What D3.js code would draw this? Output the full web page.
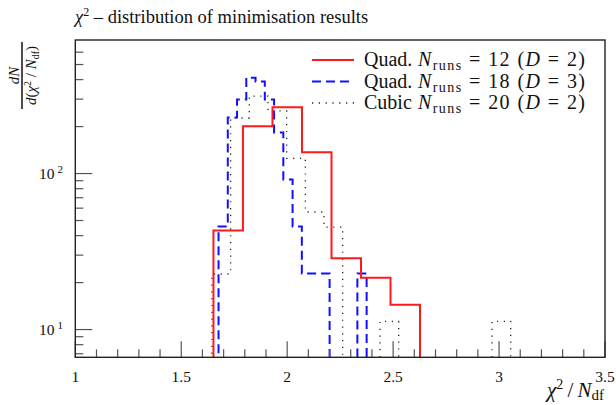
<!DOCTYPE html>
<html>
<head>
<meta charset="utf-8">
<script src="https://cdn.jsdelivr.net/npm/d3@7/dist/d3.min.js"></script>
<style>
  html, body { margin: 0; padding: 0; background: #fff; }
  svg { display: block; }
  text { font-family: "Liberation Serif", "DejaVu Serif", serif; fill: #111; }
</style>
</head>
<body>
<svg id="chart" width="616" height="405"></svg>
<script>
// Histogram ranges [low edge, high edge] in chi2/Ndf; bin count = number of values
const quad12Range = [1.652, 2.627];
const quad18Range = [1.676, 2.375];
const cubic20Range = [1.645, 3.055];

// dN/d(chi2/Ndf) per bin
const quad12Values = [43.1, 201, 266, 137, 28.7, 21.5, 14.4];
const quad18Values = [45.8, 229, 298, 412, 389, 298, 183, 91.5, 45.8, 22.9, 22.9, 22.9, 0, 0, 0, 22.9];
const cubic20Values = [22.7, 227, 314, 252, 125, 56.7, 45.4, 0, 0, 11.3, 0, 0, 0, 0, 0, 11.3];

// Legend entries
const seriesLabels = [
  { name: "Quad.", n: 12, d: 2 },
  { name: "Quad.", n: 18, d: 3 },
  { name: "Cubic", n: 20, d: 2 }
];

// Axis ticks
const xMajorTicks = [1, 1.5, 2, 2.5, 3, 3.5];
const xTickLabels = ["1", "1.5", "2", "2.5", "3", "3.5"];
const yMajorTicks = [10, 100];
const yTickExponents = ["1", "2"];

const svg = d3.select("#chart");
const frame = { left: 75.3, right: 605, top: 40, bottom: 357.3 };

const x = d3.scaleLinear().domain([1, 3.5]).range([frame.left, frame.right]);
const y = d3.scaleLog().domain([6.64, 718]).range([frame.bottom, frame.top]);

svg.append("rect").attr("width", 616).attr("height", 405).attr("fill", "#fff");

svg.append("defs").append("clipPath").attr("id", "plotClip")
  .append("rect")
  .attr("x", frame.left).attr("y", frame.top)
  .attr("width", frame.right - frame.left).attr("height", frame.bottom - frame.top);

// Step outline of a histogram; empty bins drop below the frame
function stepPath(range, values) {
  const w = (range[1] - range[0]) / values.length;
  const yv = v => v > 0 ? y(v) : frame.bottom + 10;
  const p = d3.path();
  p.moveTo(x(range[0]), frame.bottom + 10);
  values.forEach((v, i) => {
    const x0 = x(range[0] + i * w), x1 = x(range[0] + (i + 1) * w);
    p.lineTo(x0, yv(v));
    p.lineTo(x1, yv(v));
  });
  p.lineTo(x(range[1]), frame.bottom + 10);
  return p.toString();
}

const styles = [
  { color: "#ff1a1a", width: 2, dash: null },
  { color: "#1010ff", width: 2, dash: "9,5" },
  { color: "#222", width: 1.3, dash: "1.2,5.6" }
];

const series = [
  { range: quad12Range, values: quad12Values },
  { range: quad18Range, values: quad18Values },
  { range: cubic20Range, values: cubic20Values }
];

const plot = svg.append("g").attr("clip-path", "url(#plotClip)");
series.slice().reverse().forEach((s, ri) => {
  const st = styles[series.length - 1 - ri];
  plot.append("path")
    .attr("d", stepPath(s.range, s.values))
    .attr("fill", "none")
    .attr("stroke", st.color)
    .attr("stroke-width", st.width)
    .attr("stroke-dasharray", st.dash)
    .attr("stroke-linejoin", "miter");
});

// Ticks (pointing inward)
const tickColor = "#555";
const xMinor = d3.range(11, 35).map(v => v / 10).filter(v => !xMajorTicks.some(m => Math.abs(m - v) < 1e-6));
svg.append("g").selectAll("line.xmin").data(xMinor).join("line")
  .attr("x1", d => x(d)).attr("x2", d => x(d))
  .attr("y1", frame.bottom).attr("y2", frame.bottom - 8)
  .attr("stroke", tickColor).attr("stroke-width", 1.2);
svg.append("g").selectAll("line.xmaj").data(xMajorTicks).join("line")
  .attr("x1", d => x(d)).attr("x2", d => x(d))
  .attr("y1", frame.bottom).attr("y2", frame.bottom - 16)
  .attr("stroke", tickColor).attr("stroke-width", 1.2);

const yMinor = [7, 8, 9, 20, 30, 40, 50, 60, 70, 80, 90, 200, 300, 400, 500, 600];
svg.append("g").selectAll("line.ymin").data(yMinor).join("line")
  .attr("x1", frame.left).attr("x2", frame.left + 8)
  .attr("y1", d => y(d)).attr("y2", d => y(d))
  .attr("stroke", tickColor).attr("stroke-width", 1.2);
svg.append("g").selectAll("line.ymaj").data(yMajorTicks).join("line")
  .attr("x1", frame.left).attr("x2", frame.left + 17)
  .attr("y1", d => y(d)).attr("y2", d => y(d))
  .attr("stroke", tickColor).attr("stroke-width", 1.2);

// Frame
svg.append("rect")
  .attr("x", frame.left).attr("y", frame.top)
  .attr("width", frame.right - frame.left).attr("height", frame.bottom - frame.top)
  .attr("fill", "none").attr("stroke", "#222").attr("stroke-width", 1.4);

// X tick labels
svg.append("g").selectAll("text").data(xMajorTicks).join("text")
  .attr("x", d => x(d)).attr("y", 382)
  .attr("text-anchor", "middle")
  .attr("font-size", 15.5)
  .text((d, i) => xTickLabels[i]);

// Y tick labels 10^n
const yl = svg.append("g").selectAll("text").data(yMajorTicks).join("text")
  .attr("x", 63).attr("y", d => y(d) + 5)
  .attr("text-anchor", "end")
  .attr("font-size", 15.5);
yl.append("tspan").text("10");
yl.append("tspan").attr("dy", -6).attr("font-size", 11).attr("dx", 3).text((d, i) => yTickExponents[i]);

// X axis title
const xt = svg.append("text").attr("x", 604).attr("y", 397).attr("text-anchor", "end").attr("font-size", 21);
xt.append("tspan").attr("font-style", "italic").text("χ");
xt.append("tspan").attr("dy", -8).attr("font-size", 14).text("2");
xt.append("tspan").attr("dy", 8).text("\u2009/\u2009");
xt.append("tspan").attr("font-style", "italic").text("N");
xt.append("tspan").attr("dy", 3).attr("font-size", 15).text("df");

// Y axis title: rotated fraction dN / d(chi2/Ndf)
const yt = svg.append("g").attr("transform", "translate(22,75.5) rotate(-90)");
yt.append("line").attr("x1", -33.5).attr("x2", 33.5).attr("y1", 0).attr("y2", 0)
  .attr("stroke", "#111").attr("stroke-width", 1.5);
const num = yt.append("text").attr("x", 0).attr("y", -3.5).attr("text-anchor", "middle").attr("font-size", 15);
num.append("tspan").attr("font-style", "italic").text("dN");
const den = yt.append("text").attr("x", 0).attr("y", 14).attr("text-anchor", "middle").attr("font-size", 15);
den.append("tspan").attr("font-style", "italic").text("d");
den.append("tspan").text("(");
den.append("tspan").attr("font-style", "italic").text("χ");
den.append("tspan").attr("dy", -5).attr("font-size", 10).text("2");
den.append("tspan").attr("dy", 5).text(" / ");
den.append("tspan").attr("font-style", "italic").text("N");
den.append("tspan").attr("dy", 2.5).attr("font-size", 10).text("df");
den.append("tspan").attr("dy", -2.5).text(")");

// Title
const title = svg.append("text").attr("x", 75).attr("y", 23).attr("font-size", 18.5);
title.append("tspan").attr("font-style", "italic").text("χ");
title.append("tspan").attr("dy", -7).attr("font-size", 12).text("2");
title.append("tspan").attr("dy", 7).text(" – distribution of minimisation results");

// Legend
const legendRows = [60, 81.5, 103];
const legend = svg.append("g");
seriesLabels.forEach((s, i) => {
  const st = styles[i];
  const ly = legendRows[i];
  legend.append("line")
    .attr("x1", 312).attr("x2", 354).attr("y1", ly).attr("y2", ly)
    .attr("stroke", st.color).attr("stroke-width", st.width)
    .attr("stroke-dasharray", st.dash);
  legend.append("text").attr("x", 364).attr("y", ly + 6).attr("font-size", 20).text(s.name);
  const t = legend.append("text").attr("x", 418).attr("y", ly + 6).attr("font-size", 20)
    .attr("textLength", 167).attr("lengthAdjust", "spacing");
  t.append("tspan").attr("font-style", "italic").text("N");
  t.append("tspan").attr("dy", 4).attr("font-size", 14).text("runs");
  t.append("tspan").attr("dy", -4).text(" = " + s.n + " (");
  t.append("tspan").attr("font-style", "italic").text("D");
  t.append("tspan").text(" = " + s.d + ")");
});
</script>
</body>
</html>
